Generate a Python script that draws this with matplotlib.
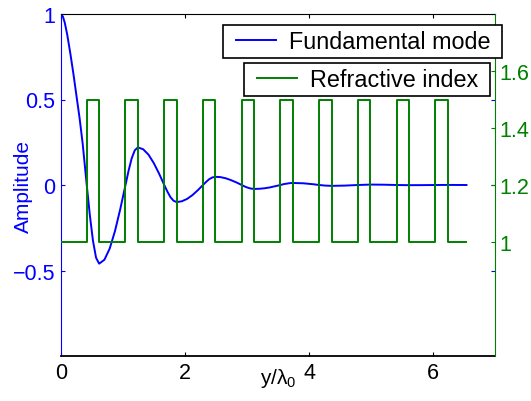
import matplotlib
matplotlib.use('Agg')
import matplotlib.pyplot as plt
from matplotlib.legend_handler import HandlerLine2D

plt.rcParams['font.family'] = ['Liberation Sans', 'DejaVu Sans']
plt.rcParams['mathtext.fontset'] = 'custom'
plt.rcParams['mathtext.rm'] = 'Liberation Sans'
plt.rcParams['mathtext.it'] = 'Liberation Sans'

# fundamental mode
mode_y = [0.0, 0.03, 0.06, 0.10, 0.15, 0.20, 0.25, 0.30, 0.35, 0.415,
          0.465, 0.515, 0.565, 0.615,
          0.70, 0.785, 0.87, 0.955, 1.04,
          1.09, 1.14, 1.19, 1.24,
          1.325, 1.41, 1.495, 1.58, 1.665,
          1.715, 1.765, 1.815, 1.865,
          1.95, 2.035, 2.12, 2.205, 2.29,
          2.34, 2.39, 2.44, 2.49,
          2.575, 2.66, 2.745, 2.83, 2.915,
          2.965, 3.015, 3.065, 3.115,
          3.20, 3.285, 3.37, 3.455, 3.54,
          3.59, 3.64, 3.69, 3.74,
          3.825, 3.91, 3.995, 4.08, 4.165,
          4.265, 4.365, 4.575, 4.79, 4.99, 5.20, 5.415, 5.615, 5.83, 6.04, 6.24, 6.54]
mode_amp = [1.0, 0.985, 0.95, 0.88, 0.77, 0.65, 0.52, 0.39, 0.24, 0.0,
            -0.176, -0.325, -0.425, -0.46,
            -0.437, -0.372, -0.27, -0.142, 0.0,
            0.084, 0.156, 0.203, 0.22,
            0.209, 0.178, 0.129, 0.068, 0.0,
            -0.038, -0.071, -0.092, -0.10,
            -0.095, -0.081, -0.059, -0.031, 0.0,
            0.018, 0.034, 0.044, 0.048,
            0.046, 0.039, 0.028, 0.015, 0.0,
            -0.009, -0.016, -0.021, -0.023,
            -0.022, -0.019, -0.014, -0.007, 0.0,
            0.005, 0.008, 0.011, 0.012,
            0.011, 0.010, 0.007, 0.004, 0.0,
            -0.0035, -0.005, -0.0035, 0.0, 0.0025, 0.0018, 0.0, -0.001, -0.0007, 0.0, 0.0005, 0.0]

# refractive index profile: high-index layers
layer_start = [0.415, 1.04, 1.665, 2.29, 2.915, 3.54, 4.165, 4.79, 5.415, 6.04]
layer_end = [0.615, 1.24, 1.865, 2.49, 3.115, 3.74, 4.365, 4.99, 5.615, 6.24]
n_low = 1.0
n_high = 1.5
profile_end = 6.54

prof_x = [0.0]
prof_n = [n_low]
for s, e in zip(layer_start, layer_end):
    prof_x += [s, s, e, e]
    prof_n += [n_low, n_high, n_high, n_low]
prof_x.append(profile_end)
prof_n.append(n_low)

blue = (0, 0, 1)
green = (0, 0.5, 0)

fig = plt.figure(figsize=(5.31, 4.02), dpi=100)
ax = fig.add_axes([0.1149, 0.1119, 0.8173, 0.8508])
ax2 = ax.twinx()

l1, = ax.plot(mode_y, mode_amp, color=blue, lw=1.4, label='Fundamental mode ')
l2, = ax2.plot(prof_x, prof_n, color=green, lw=1.4, label='Refractive index ')

ax.set_xlim(0, 7)
ax.set_ylim(-1, 1)
ax.set_xticks([0, 2, 4, 6])
ax.set_yticks([-0.5, 0, 0.5, 1])
ax.set_yticklabels(['\u22120.5', '0', '0.5', '1'])
ax2.set_ylim(0.6, 1.8)
ax2.set_yticks([1, 1.2, 1.4, 1.6])
ax2.set_yticklabels(['1', '1.2', '1.4', '1.6'])

ax.tick_params(axis='x', direction='in', top=True, length=3.2, pad=4, labelsize=15.5, colors='k')
ax.tick_params(axis='y', direction='in', right=True, length=3.2, pad=4, labelsize=15.5, colors=blue)
ax2.tick_params(axis='y', direction='in', length=3.2, pad=3, labelsize=15.5, colors=green)

ax.spines['left'].set_color(blue)
ax.spines['right'].set_visible(False)
for s in ['left', 'top', 'bottom']:
    ax2.spines[s].set_visible(False)
ax2.spines['right'].set_color(green)
ax.spines['bottom'].set_linewidth(1.3)

ax.set_xlabel(r'y/$\lambda_0$', fontsize=15)
ax.xaxis.set_label_coords(0.5, -0.03)
ax.set_ylabel('Amplitude', fontsize=15, color=blue)
ax.yaxis.set_label_coords(-0.065, 0.5)

leg_kw = dict(loc='upper right', bbox_transform=fig.transFigure, borderaxespad=0,
              fancybox=False, edgecolor='k', framealpha=1, fontsize=16.8,
              handlelength=2.06, handletextpad=0.56, borderpad=0.22)

leg1 = ax2.legend(handles=[l1], bbox_to_anchor=(502 / 531, 1 - 26 / 402),
                  handler_map={l1: HandlerLine2D(xpad=0.34)}, **leg_kw)
leg1.get_frame().set_linewidth(1.2)
ax2.add_artist(leg1)
leg2 = ax2.legend(handles=[l2], bbox_to_anchor=(490 / 531, 1 - 64 / 402),
                  handler_map={l2: HandlerLine2D(xpad=0.34)}, **leg_kw)
leg2.get_frame().set_linewidth(1.2)

fig.savefig('out.png', dpi=100)
